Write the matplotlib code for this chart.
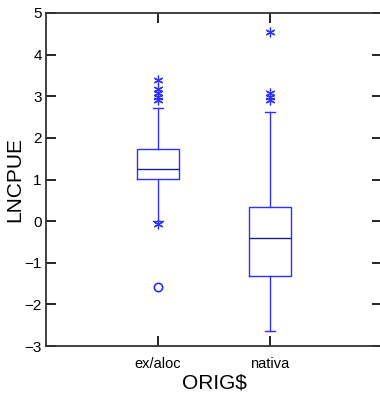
import matplotlib
matplotlib.use("Agg")
import matplotlib.pyplot as plt

plt.rcParams['font.family'] = ['Liberation Sans', 'DejaVu Sans']

# --- data ---
groups = ['ex/aloc', 'nativa']
q1 = [1.02, -1.32]
med = [1.26, -0.40]
q3 = [1.73, 0.33]
whis_lo = [0.00, -2.65]
whis_hi = [2.71, 2.62]
# outside inner fences (stars)
stars_ex = [3.38, 3.17, 3.08, 2.98, 2.92, -0.07]
stars_nat = [4.54, 3.09, 2.97, 2.90]
# outside outer fences (circles)
circles_ex = [-1.58]

blue = '#2f2fff'
asterisk = (6, 2, 0)

fig = plt.figure(figsize=(3.8, 3.96), dpi=100)
ax = fig.add_axes([46 / 380, 50 / 396, 336 / 380, 333 / 396])

stats = []
for i, g in enumerate(groups):
    stats.append(dict(label=g, med=med[i], q1=q1[i], q3=q3[i],
                      whislo=whis_lo[i], whishi=whis_hi[i], fliers=[]))

line = dict(color=blue, linewidth=1.0)
ax.bxp(stats, positions=[1, 2], widths=0.375, capwidths=0.09,
       showfliers=False, boxprops=line, whiskerprops=line,
       capprops=line, medianprops=dict(color='#1a1a90', linewidth=1.0))

ax.plot([1] * len(stars_ex), stars_ex, ls='none', marker=asterisk, ms=7,
        mec=blue, mew=0.9)
ax.plot([2] * len(stars_nat), stars_nat, ls='none', marker=asterisk, ms=7,
        mec=blue, mew=0.9)
ax.plot([1] * len(circles_ex), circles_ex, ls='none', marker='o', ms=6,
        mfc='none', mec=blue, mew=1.2)

ax.set_xlim(0, 3)
ax.set_ylim(-3, 5)
ax.set_yticks(range(-3, 6))
ax.set_xticks([1, 2])
ax.set_xticklabels(groups, fontsize=10.5)
ax.tick_params(axis='y', direction='in', length=7.5, width=1.2, labelsize=11,
               right=True, pad=3)
ax.tick_params(axis='x', direction='in', length=7.5, width=1.2, top=True,
               pad=8)
for s in ax.spines.values():
    s.set_linewidth(1.3)
    s.set_color('#333333')
ax.spines['right'].set_visible(False)

ax.set_ylabel('LNCPUE', fontsize=15, labelpad=0)
ax.set_xlabel('ORIG$', fontsize=15, labelpad=2)

fig.savefig('out.png', dpi=100)
